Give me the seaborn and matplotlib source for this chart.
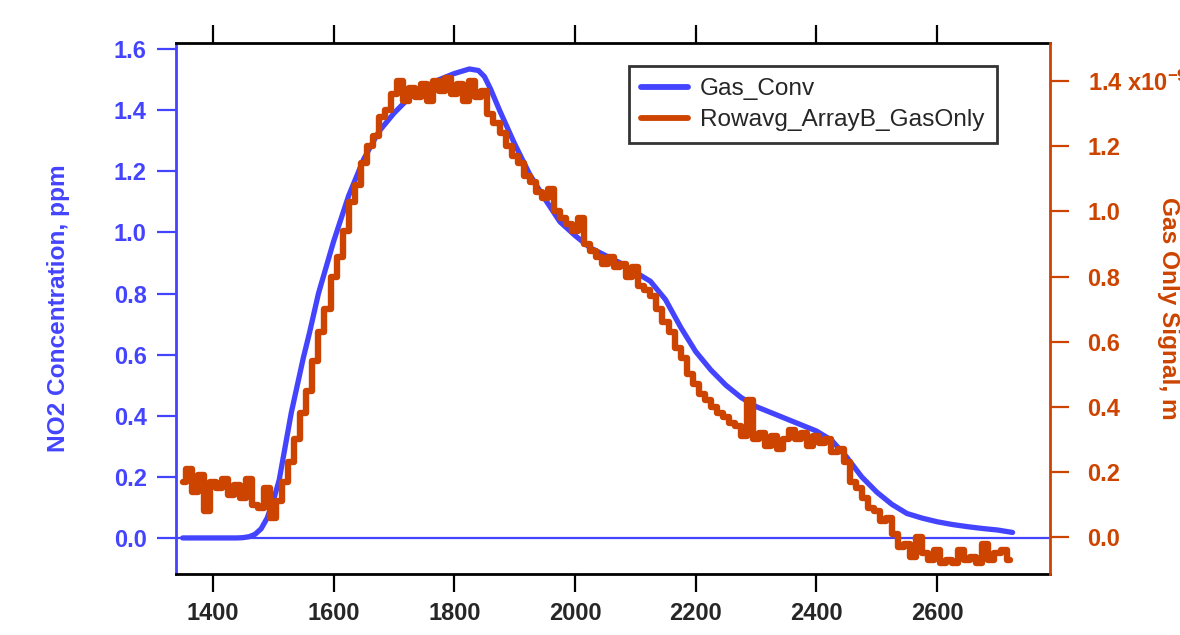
import numpy as np
import pandas as pd
import matplotlib
matplotlib.use("Agg")
import matplotlib.pyplot as plt
import seaborn as sns

# ---------------- data ----------------
conv_x = [1350, 1400, 1440, 1450, 1460, 1470, 1480, 1490, 1500, 1510,
          1520, 1530, 1540, 1550, 1560, 1575, 1600, 1625, 1650, 1675,
          1700, 1725, 1750, 1775, 1800, 1825, 1840, 1850, 1860, 1875,
          1900, 1925, 1950, 1975, 2000, 2025, 2050, 2075, 2100, 2125,
          2150, 2175, 2200, 2225, 2250, 2275, 2300, 2325, 2350, 2375,
          2400, 2425, 2450, 2475, 2500, 2525, 2550, 2575, 2600, 2625,
          2650, 2675, 2700, 2725]
conv_y = [0.0, 0.0, 0.0, 0.001, 0.004, 0.012, 0.03, 0.065, 0.12, 0.19,
          0.30, 0.41, 0.50, 0.59, 0.67, 0.80, 0.97, 1.12, 1.24, 1.33,
          1.39, 1.44, 1.475, 1.50, 1.52, 1.535, 1.53, 1.51, 1.47, 1.40,
          1.29, 1.19, 1.11, 1.035, 0.99, 0.95, 0.925, 0.90, 0.87, 0.84,
          0.78, 0.69, 0.61, 0.55, 0.50, 0.46, 0.43, 0.41, 0.39, 0.37,
          0.35, 0.32, 0.265, 0.20, 0.15, 0.11, 0.08, 0.065, 0.053, 0.044,
          0.037, 0.031, 0.026, 0.018]

gas_x = list(range(1350, 2721, 10))
gas_y = [0.17, 0.21, 0.14, 0.19, 0.08, 0.17, 0.15, 0.18, 0.13, 0.16,
         0.12, 0.18, 0.10, 0.09, 0.15, 0.06, 0.11, 0.17, 0.23, 0.30,
         0.38, 0.45, 0.54, 0.63, 0.70, 0.80, 0.86, 0.94, 1.03, 1.08,
         1.15, 1.20, 1.23, 1.29, 1.31, 1.36, 1.40, 1.34, 1.38, 1.35,
         1.39, 1.34, 1.40, 1.37, 1.41, 1.36, 1.39, 1.34, 1.40, 1.35,
         1.37, 1.30, 1.27, 1.24, 1.20, 1.17, 1.15, 1.11, 1.09, 1.06,
         1.04, 1.07, 1.00, 0.98, 0.96, 0.94, 0.98, 0.90, 0.88, 0.86,
         0.84, 0.86, 0.83, 0.84, 0.80, 0.83, 0.77, 0.76, 0.74, 0.70,
         0.66, 0.63, 0.58, 0.55, 0.50, 0.47, 0.44, 0.42, 0.40, 0.38,
         0.37, 0.35, 0.34, 0.31, 0.42, 0.30, 0.32, 0.28, 0.31, 0.27,
         0.30, 0.33, 0.30, 0.32, 0.28, 0.31, 0.29, 0.30, 0.26, 0.27,
         0.23, 0.17, 0.15, 0.12, 0.09, 0.08, 0.05, 0.06, 0.01, -0.03,
         -0.02, -0.06, 0.00, -0.05, -0.07, -0.04, -0.08, -0.07, -0.08, -0.04,
         -0.07, -0.06, -0.08, -0.02, -0.07, -0.05, -0.04, -0.07]

x_ticks = [1400, 1600, 1800, 2000, 2200, 2400, 2600]
left_ticks = [0.0, 0.2, 0.4, 0.6, 0.8, 1.0, 1.2, 1.4, 1.6]
left_tick_labels = ["0.0", "0.2", "0.4", "0.6", "0.8", "1.0", "1.2", "1.4", "1.6"]
right_ticks = [0.0, 0.2, 0.4, 0.6, 0.8, 1.0, 1.2, 1.4]
right_tick_labels = ["0.0", "0.2", "0.4", "0.6", "0.8", "1.0", "1.2", "1.4 x10$^{-9}$"]

series_names = ["Gas_Conv", "Rowavg_ArrayB_GasOnly"]
left_label = "NO2 Concentration, ppm"
right_label = "Gas Only Signal, m"

# ---------------- style ----------------
sns.set_theme(style="white")
plt.rcParams["font.family"] = ["Liberation Sans", "DejaVu Sans"]
plt.rcParams["mathtext.fontset"] = "custom"
plt.rcParams["mathtext.bf"] = "Liberation Sans:bold"
plt.rcParams["mathtext.rm"] = "Liberation Sans:bold"
plt.rcParams["mathtext.default"] = "bf"

BLUE = "#4444FF"
ORANGE = "#CC4400"
FS = 17
LFS = 17.6

conv_df = pd.DataFrame({"x": conv_x, "y": conv_y})
gas_df = pd.DataFrame({"x": gas_x, "y": gas_y})

fig = plt.figure(figsize=(11.8, 6.35), dpi=100)
ax = fig.add_axes([176 / 1180, 1 - 574 / 635, 874 / 1180, 531 / 635])
ax2 = ax.twinx()

ax.axhline(0.0, color=BLUE, lw=1.6, zorder=1)
sns.lineplot(data=conv_df, x="x", y="y", ax=ax, color=BLUE, lw=3.8,
             estimator=None, sort=False, label=series_names[0], legend=False)
sns.lineplot(data=gas_df, x="x", y="y", ax=ax2, color=ORANGE, lw=4.6,
             estimator=None, sort=False, label=series_names[1], legend=False,
             drawstyle="steps-mid")

ax.set_xlim(1339, 2787)
ax.set_ylim(-0.118, 1.62)
ax2.set_ylim(-0.113, 1.517)

ax.set_xticks(x_ticks)
ax.set_xticklabels([str(t) for t in x_ticks], fontsize=FS, fontweight="bold")
ax.set_yticks(left_ticks)
ax.set_yticklabels(left_tick_labels, fontsize=FS, fontweight="bold", color=BLUE)
ax2.set_yticks(right_ticks)
ax2.set_yticklabels(right_tick_labels, fontsize=FS, fontweight="bold", color=ORANGE)

ax.set_xlabel("")
ax.set_ylabel(left_label, fontsize=LFS, fontweight="bold", color=BLUE)
ax.yaxis.set_label_coords(-0.121, 0.5)
ax2.set_ylabel(right_label, fontsize=LFS, fontweight="bold", color=ORANGE,
               rotation=270, va="bottom")
ax2.yaxis.set_label_coords(1.122, 0.5)

# spines
for s in ["top", "bottom"]:
    ax.spines[s].set_color("black")
    ax.spines[s].set_linewidth(2)
ax.spines["left"].set_color(BLUE)
ax.spines["left"].set_linewidth(2)
ax.spines["right"].set_visible(False)
for s in ["top", "bottom", "left"]:
    ax2.spines[s].set_visible(False)
ax2.spines["right"].set_color(ORANGE)
ax2.spines["right"].set_linewidth(2)

ax.tick_params(axis="x", which="both", direction="out", length=13, width=1.6,
               color="black", top=True, bottom=True, labeltop=False, pad=7)
ax.tick_params(axis="y", direction="out", length=14, width=1.6, color=BLUE,
               left=True, pad=7)
ax2.tick_params(axis="y", direction="out", length=14, width=1.6, color=ORANGE,
                right=True, pad=13)

handles = ax.get_lines()[1:2] + ax2.get_lines()[0:1]
leg = ax2.legend(handles, series_names, loc="upper right",
                 bbox_to_anchor=(0.939, 0.957), fontsize=LFS, frameon=True,
                 fancybox=False, edgecolor="black", handlelength=1.9,
                 handletextpad=0.5, labelspacing=0.36, borderpad=0.5,
                 borderaxespad=0.0)
leg.get_frame().set_linewidth(2)
for line in leg.get_lines():
    line.set_linewidth(4.2)

fig.savefig("out.png", dpi=100)
